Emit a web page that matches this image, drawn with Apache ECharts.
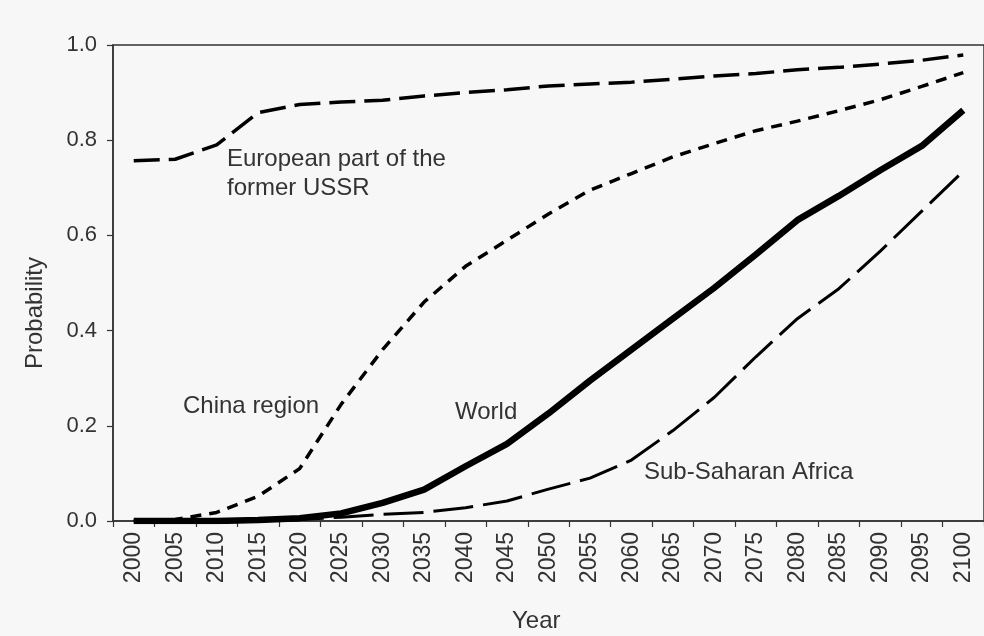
<!DOCTYPE html>
<html>
<head>
<meta charset="utf-8">
<script src="https://cdn.jsdelivr.net/npm/echarts@6/dist/echarts.min.js"></script>
<style>
html,body{margin:0;padding:0;background:#f7f7f7;}
#chart{width:984px;height:636px;}
</style>
</head>
<body>
<div id="chart"></div>
<script>
var years = [2000,2005,2010,2015,2020,2025,2030,2035,2040,2045,2050,2055,2060,2065,2070,2075,2080,2085,2090,2095,2100];
var tickLabels = ['2000','2005','2010','2015','2020','2025','2030','2035','2040','2045','2050','2055','2060','2065','2070','2075','2080','2085','2090','2095','2100'];
var europeanUSSR = [0.757,0.760,0.790,0.858,0.875,0.880,0.884,0.893,0.900,0.906,0.914,0.918,0.922,0.928,0.935,0.940,0.948,0.953,0.960,0.968,0.979];
var chinaRegion  = [0.000,0.003,0.018,0.052,0.110,0.245,0.360,0.460,0.535,0.590,0.645,0.695,0.730,0.765,0.793,0.820,0.840,0.862,0.885,0.913,0.942];
var world        = [0.000,0.000,0.000,0.002,0.006,0.016,0.038,0.066,0.115,0.162,0.226,0.295,0.360,0.425,0.490,0.560,0.632,0.683,0.737,0.788,0.863];
var subSaharan   = [0.000,0.000,0.000,0.000,0.003,0.008,0.014,0.018,0.028,0.042,0.067,0.090,0.128,0.190,0.260,0.345,0.425,0.488,0.567,0.651,0.735];

function pairs(vals){ return years.map(function(y,i){ return [y, vals[i]]; }); }

var txt = '#333';
var font = 'Liberation Sans, Arial, sans-serif';
var chart = echarts.init(document.getElementById('chart'), null, {renderer:'canvas'});
chart.setOption({
  backgroundColor:'#f7f7f7',
  animation:false,
  grid:{left:113, top:45, right:-2, bottom:115, show:true, borderColor:'#333', borderWidth:1.5, backgroundColor:'transparent'},
  xAxis:[{
    type:'category', data:tickLabels, boundaryGap:true, position:'bottom',
    axisLine:{lineStyle:{color:'#333', width:1.5}},
    axisTick:{show:true, alignWithLabel:false, length:6, lineStyle:{color:'#333', width:1.2}},
    axisLabel:{rotate:90, margin:11, color:txt, fontSize:23, fontFamily:font, interval:0},
    splitLine:{show:false}
  },{
    type:'value', min:1997.5, max:2102.5, show:false, position:'bottom'
  }],
  yAxis:{
    type:'value', min:0, max:1, interval:0.2,
    axisLine:{show:true, lineStyle:{color:'#333', width:1.5}},
    axisTick:{show:true, length:6, lineStyle:{color:'#333', width:1.2}},
    axisLabel:{margin:16, color:txt, fontSize:22, fontFamily:font, formatter:function(v){return v.toFixed(1);}},
    splitLine:{show:false}
  },
  series:[
    {type:'line', xAxisIndex:1, data:pairs(europeanUSSR), symbol:'none', smooth:false,
      lineStyle:{color:'#000', width:3.5, type:[26,9], cap:'butt'}},
    {type:'line', xAxisIndex:1, data:pairs(chinaRegion), symbol:'none', smooth:false,
      lineStyle:{color:'#000', width:3.5, type:[11,8], cap:'butt'}},
    {type:'line', xAxisIndex:1, data:pairs(world), symbol:'none', smooth:false,
      lineStyle:{color:'#000', width:6.5}},
    {type:'line', xAxisIndex:1, data:pairs(subSaharan), symbol:'none', smooth:false,
      lineStyle:{color:'#000', width:3, type:[40,10], cap:'butt'}}
  ],
  graphic:[
    {type:'text', left:227, top:145, style:{text:'European part of the\nformer USSR', fill:txt, font:'24px '+font, lineHeight:29}},
    {type:'text', left:183, top:394, style:{text:'China region', fill:txt, font:'24px '+font}},
    {type:'text', left:455, top:400, style:{text:'World', fill:txt, font:'24px '+font}},
    {type:'text', left:644, top:460, style:{text:'Sub-Saharan Africa', fill:txt, font:'24px '+font}},
    {type:'text', left:512, top:609, style:{text:'Year', fill:txt, font:'24px '+font}},
    {type:'text', x:35, y:313, rotation:Math.PI/2, style:{text:'Probability', fill:txt, font:'24px '+font, align:'center', verticalAlign:'middle'}}
  ]
});
</script>
</body>
</html>
